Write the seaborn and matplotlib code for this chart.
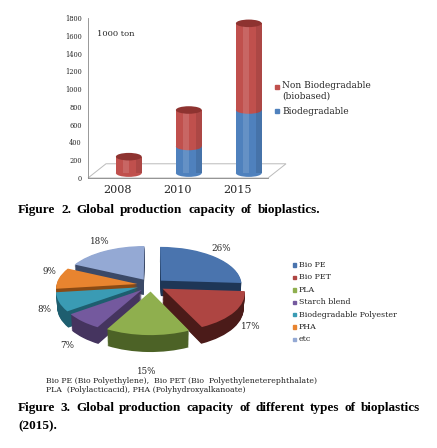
"""Bioplastics production capacity: 3D-style cylinder bars and an exploded 3D-style pie."""

import matplotlib
matplotlib.use("Agg")
import matplotlib.pyplot as plt
import matplotlib.transforms as mtransforms
import numpy as np
import seaborn as sns
from matplotlib.patches import Ellipse, Polygon, Rectangle

# ---- data -------------------------------------------------------------
years = ["2008", "2010", "2015"]
biodegradable = [0, 300, 710]
non_biodegradable = [185, 410, 975]
bar_series = ["Non Biodegradable\n(biobased)", "Biodegradable"]

pie_labels = ["Bio PE", "Bio PET", "PLA", "Starch blend",
              "Biodegradable Polyester", "PHA", "etc"]
pie_shares = [26, 17, 15, 7, 8, 9, 18]

y_ticks = list(range(0, 1801, 200))

# ---- style ------------------------------------------------------------
sns.set_theme(style="white")
plt.rcParams["font.family"] = ["DejaVu Serif"]

RED, BLUE = "#C0504D", "#4F81BD"
RED_DARK = "#8E3330"
pie_top = ["#4A74AE", "#AE4542", "#8FAF4E", "#74599E", "#3A9BB4", "#E8842F", "#94A9D4"]
pie_side = ["#1E3656", "#4B1B19", "#4C6226", "#45345F", "#1E5E6F", "#8A4A14", "#3B4967"]

W, H = 437, 448
fig = plt.figure(figsize=(W / 100, H / 100), dpi=100)


def box(x0, y0, x1, y1):
    """Pixel box (top-left origin) to figure fraction rect."""
    return [x0 / W, 1 - y1 / H, (x1 - x0) / W, (y1 - y0) / H]


# ---- Figure 2: cylinder bars -----------------------------------------
ax = fig.add_axes(box(88, 18, 268, 178))
ax.set_xlim(-0.5, 2.5)
ax.set_ylim(0, 1800)
ax.set_yticks(y_ticks)
ax.set_yticklabels([str(t) for t in y_ticks], fontsize=4.8)
ax.set_xticks(range(len(years)))
ax.set_xticklabels(years, fontsize=8)
ax.set_xticks([-0.5, 0.5, 1.5, 2.5], minor=True)
ax.tick_params(axis="x", which="major", length=0, pad=5)
ax.tick_params(axis="x", which="minor", length=3, color="#888888", width=0.6, direction="out")
ax.tick_params(axis="y", length=2.5, color="#888888", width=0.6, pad=2, direction="out")
for side in ["top", "right"]:
    ax.spines[side].set_visible(False)
for side in ["left", "bottom"]:
    ax.spines[side].set_color("#888888")
    ax.spines[side].set_linewidth(0.6)

# floor in perspective
floor_back = 160
dx = 0.3
floor = Polygon([(-0.5, 0), (2.5, 0), (2.5 + dx, floor_back), (-0.5 + dx, floor_back)],
                closed=True, fill=False, edgecolor="#BBBBBB", lw=0.7, clip_on=False)
ax.add_patch(floor)

shift = 0.18
bar_w = 0.43
base = 55
cap_h = 85
for i in range(len(years)):
    x = i + shift
    lo = base
    for val, col in [(biodegradable[i], BLUE), (non_biodegradable[i], RED)]:
        if val <= 0:
            continue
        ax.add_patch(Ellipse((x, lo), bar_w, cap_h, facecolor=col, edgecolor="none", zorder=3))
        ax.bar(x, val, bottom=lo, width=bar_w, color=col, edgecolor="none", zorder=3)
        # soft highlight / edge shade to suggest a rounded surface
        ax.bar(x - bar_w * 0.12, val, bottom=lo, width=bar_w * 0.24,
               color="white", alpha=0.13, edgecolor="none", zorder=3.1)
        ax.bar(x + bar_w * 0.38, val, bottom=lo, width=bar_w * 0.24,
               color="black", alpha=0.10, edgecolor="none", zorder=3.1)
        lo += val
    ax.add_patch(Ellipse((x, lo), bar_w, cap_h, facecolor=RED_DARK,
                         edgecolor="none", zorder=4))

ax.text(0.05, 0.9, "1000 ton", transform=ax.transAxes, fontsize=6, va="center")

# legend for bars
fig.patches.append(Rectangle((275 / W, 1 - 89 / H), 4 / W, 4 / H,
                             transform=fig.transFigure, color=RED))
fig.patches.append(Rectangle((275 / W, 1 - 113 / H), 4 / W, 4 / H,
                             transform=fig.transFigure, color=BLUE))
fig.text(282 / W, 1 - 81 / H, bar_series[0], fontsize=6.5, va="top", linespacing=1.2)
fig.text(282 / W, 1 - 111 / H, bar_series[1], fontsize=6.5, va="center")


def justify(words, x0, x1, y, **kw):
    """Place words evenly between x0 and x1 (pixel coords)."""
    texts = [fig.text(0, 1 - y / H, w, va="baseline", **kw) for w in words]
    renderer = fig.canvas.get_renderer()
    widths = [t.get_window_extent(renderer).width for t in texts]
    gap = (x1 - x0 - sum(widths)) / max(len(words) - 1, 1)
    x = x0
    for t, w in zip(texts, widths):
        t.set_x(x / W)
        x += w + gap


cap_kw = dict(fontsize=9.5, fontweight="bold", family="Liberation Serif", color="black")
justify("Figure 2. Global production capacity of bioplastics.".split(), 18, 320, 213, **cap_kw)

# ---- Figure 3: exploded pie in perspective --------------------------
TILT_S, TILT_C, VIEW_D = 0.468, 0.884, 9.0


class Perspective(mtransforms.Transform):
    """Project the flat pie plane (x, y) at height z onto the screen."""
    input_dims = 2
    output_dims = 2
    is_separable = False
    has_inverse = False

    def __init__(self, z=0.0):
        super().__init__()
        self.z = z

    def transform_non_affine(self, values):
        values = np.asarray(values, dtype=float)
        x, y = values[:, 0], values[:, 1]
        v = y * TILT_S + self.z * TILT_C
        d = VIEW_D + y * TILT_C - self.z * TILT_S
        f = VIEW_D / d
        return np.column_stack([x * f, v * f])


ax2 = fig.add_axes(box(20, 232, 284, 372))
explode = [0.17] * len(pie_shares)
depth = 0.22
layers = 20
for k in range(layers, 0, -1):
    side_wedges, _ = ax2.pie(pie_shares, colors=pie_side, explode=explode, startangle=90,
                             counterclock=False, wedgeprops=dict(linewidth=0))
    proj = Perspective(-depth * k / layers) + ax2.transData
    for w in side_wedges:
        w.set_transform(proj)
wedges, _ = ax2.pie(pie_shares, colors=pie_top, explode=explode, startangle=90,
                    counterclock=False, wedgeprops=dict(linewidth=0))
for w in wedges:
    w.set_transform(Perspective(0.0) + ax2.transData)

scale = 81.0
cx, cy = 151, 285
ax2.set_aspect("auto")
ax2.set_xlim(-(cx - 20) / scale, (284 - cx) / scale)
ax2.set_ylim(-(372 - cy) / scale, (cy - 232) / scale)
ax2.axis("off")

for w, share in zip(wedges, pie_shares):
    mid = np.deg2rad((w.theta1 + w.theta2) / 2)
    front = max(0.0, -np.sin(mid))
    r = 1.3 + 0.16 * front
    pt = Perspective(-1.3 * depth * front).transform(
        np.array([[r * np.cos(mid), r * np.sin(mid)]]))[0]
    lift = 0.07 * (1 - front)
    ax2.text(pt[0], pt[1] + lift, f"{share}%", ha="center", va="center", fontsize=6.3)

# legend for pie
for j, (lab, col) in enumerate(zip(pie_labels, pie_top)):
    yy = 265 + j * 12.4
    fig.patches.append(Rectangle((293 / W, 1 - (yy + 1.7) / H), 3.4 / W, 3.4 / H,
                                 transform=fig.transFigure, color=col))
    fig.text(299 / W, 1 - yy / H, lab, fontsize=5.7, va="center")

note_kw = dict(fontsize=5.6, color="#222222")
fig.text(46 / W, 1 - 381 / H,
         "Bio PE (Bio Polyethylene),  Bio PET (Bio  Polyethyleneterephthalate)",
         va="center", **note_kw)
fig.text(46 / W, 1 - 390 / H,
         "PLA  (Polylacticacid), PHA (Polyhydroxyalkanoate)", va="center", **note_kw)

justify("Figure 3. Global production capacity of different types of bioplastics".split(),
        18, 420, 411, **cap_kw)
fig.text(18 / W, 1 - 429 / H, "(2015).", va="baseline", **cap_kw)

fig.savefig("out.png", dpi=100)
